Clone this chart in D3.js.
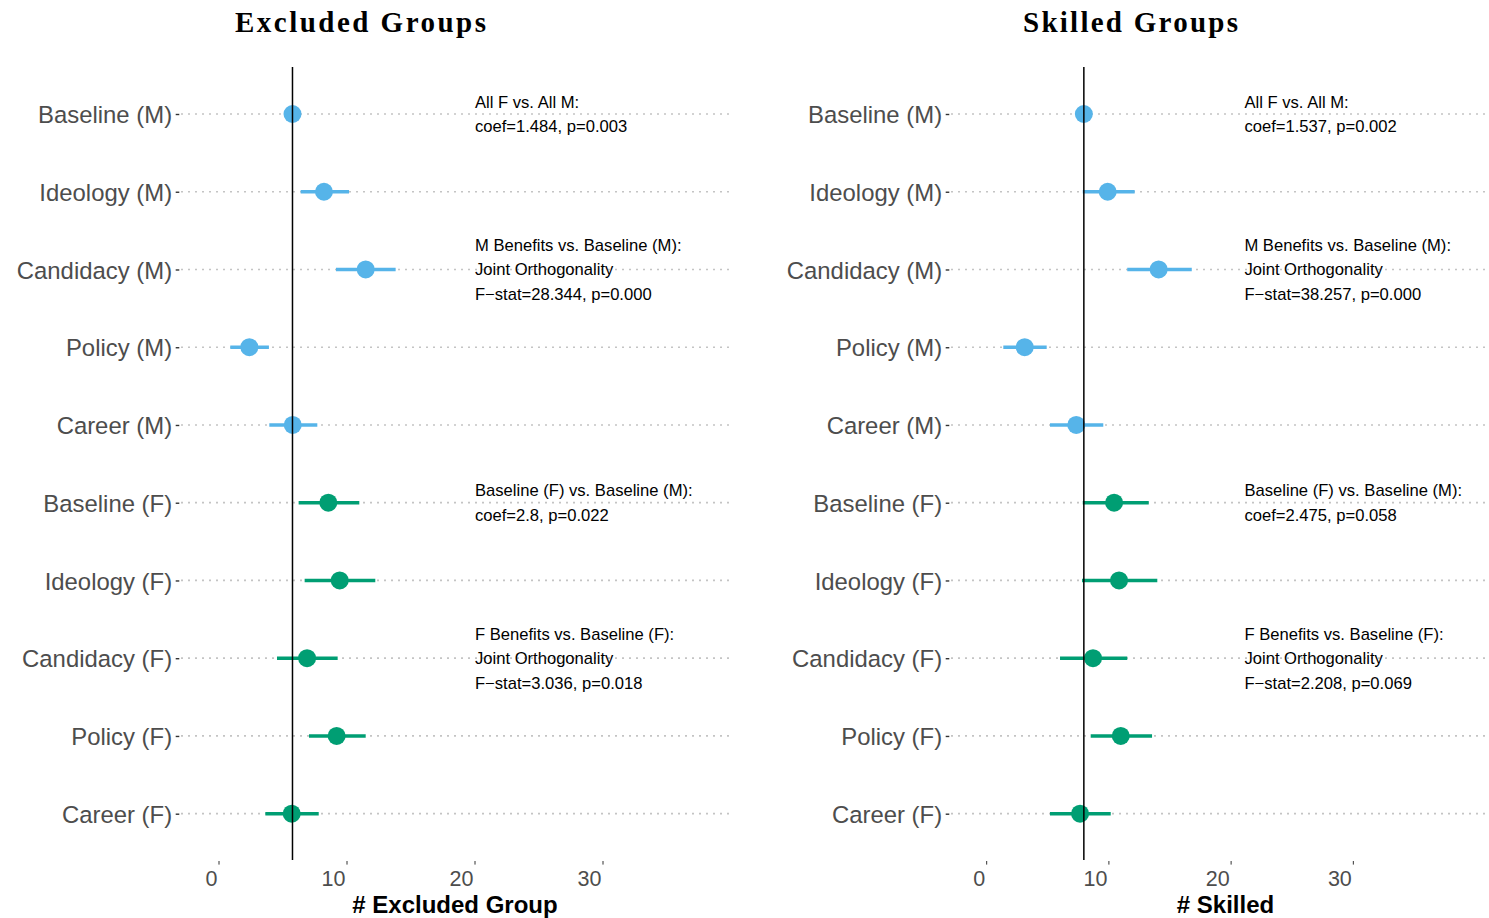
<!DOCTYPE html>
<html>
<head>
<meta charset="utf-8">
<script src="https://cdn.jsdelivr.net/npm/d3@7"></script>
<style>
  html, body { margin: 0; padding: 0; background: #fff; }
  svg { display: block; }
</style>
</head>
<body>
<svg id="chart" width="1489" height="918"></svg>
<script>
// Treatment arms, top to bottom
const categories = [
  "Baseline (M)", "Ideology (M)", "Candidacy (M)", "Policy (M)", "Career (M)",
  "Baseline (F)", "Ideology (F)", "Candidacy (F)", "Policy (F)", "Career (F)"
];
const sexOf = ["M", "M", "M", "M", "M", "F", "F", "F", "F", "F"];

// Excluded groups: estimate and 95% interval
const excludedEst = [5.74, 8.2, 11.46, 2.37, 5.76, 8.54, 9.43, 6.88, 9.19, 5.68];
const excludedLo  = [5.74, 6.38, 9.14, 0.88, 3.93, 6.22, 6.69, 4.53, 7.03, 3.62];
const excludedHi  = [5.74, 10.16, 13.8, 3.9, 7.68, 10.96, 12.21, 9.27, 11.46, 7.79];

// Skilled groups: estimate and 95% interval
const skilledEst = [7.95, 9.9, 14.07, 3.11, 7.33, 10.425, 10.83, 8.7, 10.97, 7.64];
const skilledLo  = [7.95, 7.86, 11.5, 1.36, 5.18, 7.86, 7.8, 6.0, 8.51, 5.18];
const skilledHi  = [7.95, 12.11, 16.78, 4.91, 9.54, 13.26, 13.96, 11.5, 13.53, 10.15];

const xTicks = [0, 10, 20, 30];

// Test results printed beside the rows
const excludedNotes = [
  { row: "Baseline (M)", lines: ["All F vs. All M:", "coef=1.484, p=0.003"] },
  { row: "Candidacy (M)", lines: ["M Benefits vs. Baseline (M):", "Joint Orthogonality", "F\u2212stat=28.344, p=0.000"] },
  { row: "Baseline (F)", lines: ["Baseline (F) vs. Baseline (M):", "coef=2.8, p=0.022"] },
  { row: "Candidacy (F)", lines: ["F Benefits vs. Baseline (F):", "Joint Orthogonality", "F\u2212stat=3.036, p=0.018"] }
];
const skilledNotes = [
  { row: "Baseline (M)", lines: ["All F vs. All M:", "coef=1.537, p=0.002"] },
  { row: "Candidacy (M)", lines: ["M Benefits vs. Baseline (M):", "Joint Orthogonality", "F\u2212stat=38.257, p=0.000"] },
  { row: "Baseline (F)", lines: ["Baseline (F) vs. Baseline (M):", "coef=2.475, p=0.058"] },
  { row: "Candidacy (F)", lines: ["F Benefits vs. Baseline (F):", "Joint Orthogonality", "F\u2212stat=2.208, p=0.069"] }
];

const sexColor = { M: "#56B4E9", F: "#009E73" };

// Panel layout
const panels = [
  { title: "Excluded Groups", titleWidth: 251, xLabel: "# Excluded Group",
    est: excludedEst, lo: excludedLo, hi: excludedHi, notes: excludedNotes,
    left: 181, right: 731, domain: [-2.97, 40.0], xLabelX: 455 },
  { title: "Skilled Groups", titleWidth: 215, xLabel: "# Skilled",
    est: skilledEst, lo: skilledLo, hi: skilledHi, notes: skilledNotes,
    left: 951, right: 1500, domain: [-2.92, 42.0], xLabelX: 1225.5 }
];

const panelTop = 67, panelBottom = 860;
const svg = d3.select("#chart");
svg.append("rect").attr("width", 1489).attr("height", 918).attr("fill", "#fff");

const sans = "'Liberation Sans', Arial, Helvetica, sans-serif";

const y = d3.scalePoint().domain(categories).range([114, 813.7]);

panels.forEach(p => {
  const x = d3.scaleLinear().domain(p.domain).range([p.left, p.right]);
  const g = svg.append("g");
  const rows = categories.map((c, i) => ({
    cat: c, sex: sexOf[i], est: p.est[i], lo: p.lo[i], hi: p.hi[i]
  }));

  // Title
  g.append("text")
    .attr("x", p.left + 179.5).attr("y", 32)
    .attr("text-anchor", "middle")
    .attr("font-family", "'Liberation Serif', 'Times New Roman', serif")
    .attr("font-weight", "bold").attr("font-size", 29)
    .attr("textLength", p.titleWidth).attr("lengthAdjust", "spacing")
    .attr("fill", "#000")
    .text(p.title);

  // Dotted row guides
  g.selectAll(".grid").data(categories).join("line")
    .attr("x1", p.left).attr("x2", p.right)
    .attr("y1", d => y(d)).attr("y2", d => y(d))
    .attr("stroke", "#c4c4c4").attr("stroke-width", 1.7)
    .attr("stroke-dasharray", "2,5");

  // Y axis: ticks and labels
  const yAxis = d3.axisLeft(y).tickSize(3.6).tickPadding(3.6);
  const ya = g.append("g").attr("transform", `translate(${p.left - 1.7},0)`).call(yAxis);
  ya.select(".domain").remove();
  ya.selectAll(".tick line").attr("stroke", "#333").attr("stroke-width", 1.4);
  ya.selectAll(".tick text")
    .attr("font-family", sans).attr("font-size", 23.9)
    .attr("fill", "#4d4d4d").attr("dy", "0.36em");

  // X axis: tiny ticks, labels right-aligned to tick
  const xa = g.append("g").attr("transform", `translate(0,${panelBottom + 1})`);
  xa.selectAll("line").data(xTicks).join("line")
    .attr("x1", d => x(d)).attr("x2", d => x(d))
    .attr("y1", 0).attr("y2", 3.6)
    .attr("stroke", "#333").attr("stroke-width", 1);
  xa.selectAll("text").data(xTicks).join("text")
    .attr("x", d => x(d) - 1.5).attr("y", 25)
    .attr("text-anchor", "end")
    .attr("font-family", sans).attr("font-size", 21.5)
    .attr("fill", "#4d4d4d")
    .text(d => d);

  // Axis title
  g.append("text")
    .attr("x", p.xLabelX).attr("y", 913)
    .attr("text-anchor", "middle")
    .attr("font-family", sans).attr("font-weight", "bold").attr("font-size", 24)
    .attr("fill", "#000")
    .text(p.xLabel);

  // Confidence intervals
  g.selectAll(".ci").data(rows).join("line")
    .attr("x1", d => x(d.lo)).attr("x2", d => x(d.hi))
    .attr("y1", d => y(d.cat)).attr("y2", d => y(d.cat))
    .attr("stroke", d => sexColor[d.sex]).attr("stroke-width", 3.5);

  // Point estimates
  g.selectAll(".pt").data(rows).join("circle")
    .attr("cx", d => x(d.est)).attr("cy", d => y(d.cat))
    .attr("r", 9)
    .attr("fill", d => sexColor[d.sex]);

  // Reference line at the male baseline estimate
  g.append("line")
    .attr("x1", x(p.est[0])).attr("x2", x(p.est[0]))
    .attr("y1", panelTop).attr("y2", panelBottom)
    .attr("stroke", "#000").attr("stroke-width", 1.5);

  // Test annotations
  const noteX = p.left + 0.5345 * (p.right - p.left);
  p.notes.forEach(n => {
    const k = n.lines.length;
    const t = g.append("text")
      .attr("font-family", sans).attr("font-size", 16.6).attr("fill", "#000");
    n.lines.forEach((line, i) => {
      const cy = y(n.row) + (i - (k - 1) / 2) * 24.5;
      t.append("tspan").attr("x", noteX).attr("y", cy + 6).text(line);
    });
  });
});
</script>
</body>
</html>
